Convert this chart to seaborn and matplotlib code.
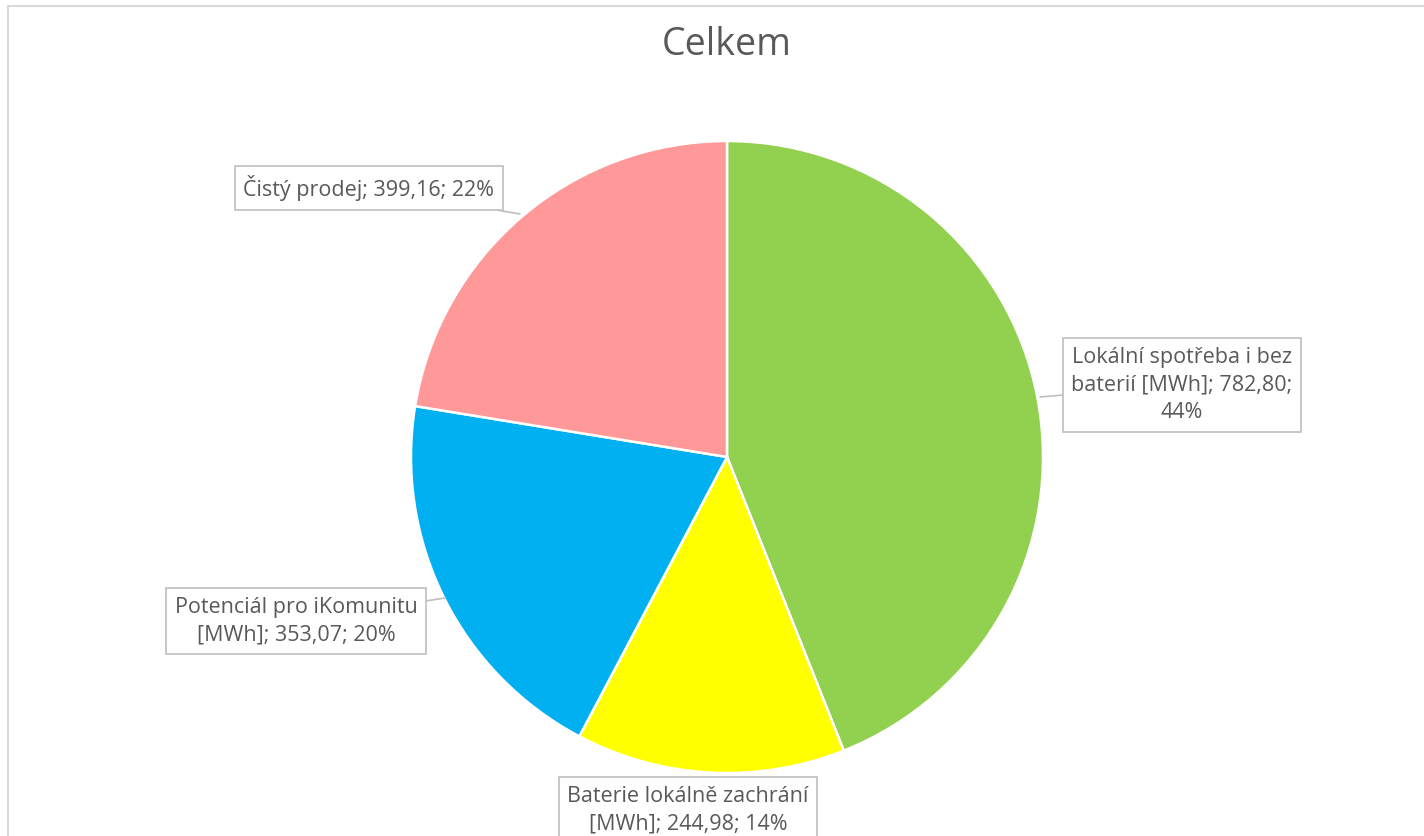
import matplotlib
matplotlib.use("Agg")
import matplotlib.pyplot as plt
import seaborn as sns
from matplotlib.patches import Rectangle

sns.set_theme(style="white")
plt.rcParams['font.family'] = ['Open Sans', 'DejaVu Sans']

categories = ["Lokální spotřeba i bez baterií [MWh]",
              "Baterie lokálně zachrání [MWh]",
              "Potenciál pro iKomunitu [MWh]",
              "Čistý prodej"]
values = [782.80, 244.98, 353.07, 399.16]
colors = ["#92D050", "#FFFF00", "#00B0F0", "#FF9999"]
title = "Celkem"

W, H = 1424, 836
CX, CY, R = 727, 457, 316

fig = plt.figure(figsize=(W / 100, H / 100), dpi=100)
fig.patch.set_facecolor("white")
ax = fig.add_axes([0, 0, 1, 1])

wedges, _ = ax.pie(values, colors=colors, startangle=90, counterclock=False,
                   radius=1, center=(0, 0),
                   wedgeprops=dict(edgecolor="white", linewidth=1.8))

ax.set_xlim(-CX / R, (W - CX) / R)
ax.set_ylim(-(H - CY) / R, CY / R)
ax.set_aspect("equal")
ax.axis("off")

# chart border
fig.patches.append(Rectangle((8 / W, -0.1), 1.2, (H - 6) / H + 0.1, transform=fig.transFigure,
                             fill=False, edgecolor="#D9D9D9", linewidth=1.5))

total = sum(values)

def fmt(v):
    return f"{v:.2f}".replace(".", ",")

def p2d(px, py):
    return ((px - CX) / R, (CY - py) / R)

label_texts = [
    f"Lokální spotřeba i bez\nbaterií [MWh]; {fmt(values[0])};\n{round(values[0] / total * 100)}%",
    f"Baterie lokálně zachrání\n[MWh]; {fmt(values[1])}; {round(values[1] / total * 100)}%",
    f"Potenciál pro iKomunitu\n[MWh]; {fmt(values[2])}; {round(values[2] / total * 100)}%",
    f"Čistý prodej; {fmt(values[3])}; {round(values[3] / total * 100)}%",
]
label_pos = [(1182, 385), (688, 810), (296, 621), (369, 188)]
anchor_pos = [(1040, 397), None, (445, 598), (520, 214)]

for txt, (lx, ly), anc in zip(label_texts, label_pos, anchor_pos):
    kw = {}
    if anc is not None:
        kw["arrowprops"] = dict(arrowstyle="-", color="#BFBFBF", lw=1.2,
                                shrinkA=0, shrinkB=0)
        xy = p2d(*anc)
    else:
        xy = p2d(lx, ly)
    ax.annotate(txt, xy=xy, xytext=p2d(lx, ly),
                ha="center", va="center", fontsize=15.5, color="#595959",
                linespacing=1.4,
                bbox=dict(boxstyle="square,pad=0.4", fc="white", ec="#BFBFBF", lw=1.2),
                **kw)

ax.text(*p2d(727, 45), title, ha="center", va="center", fontsize=27, color="#595959")

fig.savefig("out.png", dpi=100, facecolor="white")
